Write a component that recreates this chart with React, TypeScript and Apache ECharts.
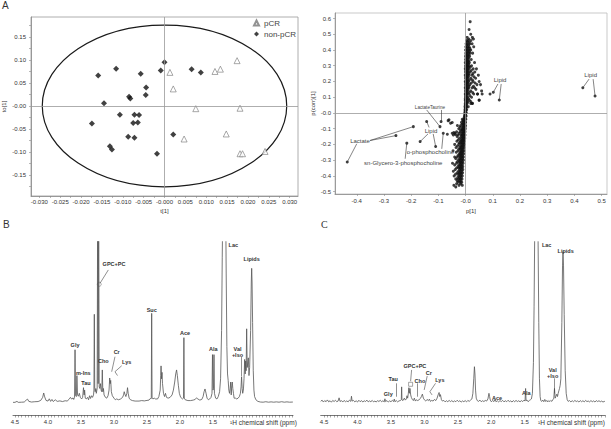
import React, { useEffect, useRef } from "react";
import * as echarts from "echarts";

const FONT = "'Liberation Sans', Arial, Helvetica, sans-serif";

// ---------- Panel A: OPLS-DA scores, t[1] vs to[1] ----------
const nonPcrScores: [number, number][] = [
  [-0.0, 0.095], [-0.0009, 0.077], [0.0065, 0.08], [0.0087, 0.073], [-0.0116, 0.081],
  [-0.0159, 0.066], [-0.0057, 0.07], [-0.0044, 0.04], [-0.0045, 0.024], [-0.0085, 0.02],
  [-0.0082, 0.016], [-0.0145, 0.006], [-0.0107, -0.019], [-0.0072, -0.019], [-0.0061, -0.02],
  [-0.0174, -0.038], [-0.0075, -0.037], [-0.0064, -0.036], [-0.0087, -0.067], [-0.0072, -0.069],
  [-0.0131, -0.088], [-0.0126, -0.095], [-0.0018, -0.104], [0.0021, -0.062],
];
const pcrScores: [number, number][] = [
  [0.0013, 0.073], [0.0021, 0.037], [0.0121, 0.075], [0.0134, 0.08], [0.0174, 0.0985],
  [0.0075, -0.006], [0.0181, -0.005], [0.0148, -0.061], [0.0047, -0.072], [0.0181, -0.104],
  [0.0187, -0.104], [0.0241, -0.099],
];
// Hotelling T2 ellipse: centre x, centre y, radius x, radius y
const t2Ellipse = [0, 0, 0.0293, 0.176];
const scoreXLabels = [-0.03, -0.025, -0.02, -0.015, -0.01, -0.005, 0, 0.005, 0.01, 0.015, 0.02, 0.025, 0.03];
const scoreYLabels = [-0.15, -0.1, -0.05, 0, 0.05, 0.1, 0.15];

// ---------- Panel S-plot: p[1] vs p(corr)[1] ----------
// rows of [p(corr), p values on that row]
const sPlotRows: [number, number[]][] = [
  [0.58, [0.017]], [0.53, [0.013]], [0.5, [0.019]], [0.48, [0.025, 0.006]], [0.47, [0.029, 0.012]],
  [0.46, [0.004, 0.01, 0.02]], [0.45, [0.006, 0.014]], [0.44, [0.002, 0.008, 0.016, 0.024]],
  [0.43, [0.004, 0.011]], [0.42, [0.001, 0.007, 0.013, 0.03]], [0.41, [0.003, 0.009, 0.016]],
  [0.4, [0.0, 0.006, 0.012, 0.019]], [0.39, [0.003, 0.009, 0.014]], [0.38, [0.001, 0.005, 0.011, 0.017, 0.026]],
  [0.37, [0.002, 0.007, 0.012]], [0.36, [0.0, 0.004, 0.009, 0.015]], [0.35, [0.002, 0.007, 0.012]],
  [0.34, [0.0, 0.005, 0.01, 0.021]], [0.33, [0.002, 0.007, 0.012]],
  [0.32, [-0.001, 0.004, 0.009, 0.014, 0.033]], [0.31, [0.002, 0.006, 0.011]],
  [0.3, [0.0, 0.004, 0.008, 0.013, 0.022]], [0.29, [0.001, 0.005, 0.01, 0.017]],
  [0.28, [-0.001, 0.003, 0.007, 0.012, 0.028, 0.04]], [0.27, [0.001, 0.005, 0.01, 0.021]],
  [0.26, [0.0, 0.004, 0.009, 0.017, 0.034]], [0.25, [0.002, 0.006, 0.012, 0.027]],
  [0.24, [-0.001, 0.003, 0.007, 0.013, 0.024, 0.047]], [0.23, [0.001, 0.005, 0.01, 0.031]],
  [0.22, [0.0, 0.003, 0.008, 0.019, 0.037]], [0.21, [0.002, 0.006, 0.014, 0.025]],
  [0.2, [-0.001, 0.002, 0.006, 0.011, 0.028, 0.05]], [0.19, [0.001, 0.004, 0.009, 0.021, 0.035]],
  [0.18, [0.0, 0.003, 0.008, 0.016, 0.042, 0.055]], [0.17, [0.001, 0.005, 0.012, 0.029]],
  [0.16, [-0.001, 0.002, 0.006, 0.012, 0.024, 0.033]], [0.15, [0.001, 0.004, 0.009, 0.038]],
  [0.14, [0.0, 0.003, 0.007, 0.019, 0.059]], [0.13, [0.001, 0.005, 0.014, 0.026]],
  [0.12, [-0.001, 0.002, 0.005, 0.01, 0.03, 0.044, 0.061]], [0.11, [0.0, 0.004, 0.016]],
  [0.1, [0.0, 0.003, 0.008, 0.022]], [0.09, [-0.001, 0.004, 0.011]],
  [0.08, [-0.001, 0.002, 0.005, 0.014, 0.05]], [0.07, [0.0, 0.003, 0.008]],
  [0.06, [-0.001, 0.002, 0.006, 0.019, 0.025]], [0.05, [-0.001, 0.003]],
  [0.04, [-0.002, 0.001, 0.004, 0.01]], [0.03, [-0.001, 0.002]], [0.02, [-0.002, 0.001, 0.004]],
  [0.01, [-0.002, 0.001]], [0.0, [-0.003, 0.0, 0.003]], [-0.01, [-0.003, 0.0]],
  [-0.02, [-0.004, -0.001, 0.002]], [-0.03, [-0.005, -0.002]], [-0.04, [-0.012, -0.006, -0.002, 0.001]],
  [-0.05, [-0.007, -0.003, -0.01]], [-0.06, [-0.015, -0.007, -0.003, 0.0]], [-0.07, [-0.008, -0.004, -0.012]],
  [-0.08, [-0.03, -0.018, -0.009, -0.004, 0.0]], [-0.09, [-0.011, -0.007, -0.002, -0.021]],
  [-0.1, [-0.025, -0.014, -0.01, -0.005, -0.001]], [-0.11, [-0.012, -0.008, -0.003, -0.018]],
  [-0.12, [-0.033, -0.02, -0.011, -0.006, -0.002]], [-0.13, [-0.014, -0.009, -0.004, -0.024]],
  [-0.14, [-0.045, -0.028, -0.017, -0.012, -0.007, -0.002]], [-0.15, [-0.015, -0.01, -0.005, -0.031]],
  [-0.16, [-0.022, -0.013, -0.008, -0.003]], [-0.17, [-0.016, -0.011, -0.006, -0.027]],
  [-0.18, [-0.032, -0.019, -0.014, -0.009, -0.004]], [-0.19, [-0.017, -0.012, -0.007, -0.023]],
  [-0.2, [-0.04, -0.025, -0.015, -0.01, -0.005]], [-0.21, [-0.018, -0.013, -0.008, -0.03]],
  [-0.22, [-0.035, -0.021, -0.016, -0.011, -0.006]], [-0.23, [-0.019, -0.014, -0.009, -0.025]],
  [-0.24, [-0.046, -0.028, -0.017, -0.012, -0.006]], [-0.25, [-0.02, -0.015, -0.01, -0.034]],
  [-0.26, [-0.023, -0.018, -0.013, -0.007]], [-0.27, [-0.021, -0.016, -0.011, -0.028]],
  [-0.28, [-0.04, -0.03, -0.019, -0.013, -0.008]], [-0.29, [-0.022, -0.017, -0.011, -0.036]],
  [-0.3, [-0.026, -0.02, -0.014, -0.008]], [-0.31, [-0.023, -0.017, -0.012, -0.031]],
  [-0.32, [-0.048, -0.033, -0.021, -0.015, -0.009]], [-0.33, [-0.024, -0.018, -0.013, -0.04]],
  [-0.34, [-0.028, -0.021, -0.016, -0.01]], [-0.35, [-0.025, -0.019, -0.013, -0.033]],
  [-0.36, [-0.038, -0.022, -0.016, -0.01]], [-0.37, [-0.026, -0.02, -0.014, -0.045]],
  [-0.38, [-0.031, -0.023, -0.017, -0.011]], [-0.39, [-0.027, -0.021, -0.015, -0.037]],
  [-0.4, [-0.042, -0.024, -0.018, -0.012]], [-0.41, [-0.029, -0.022, -0.016]],
  [-0.42, [-0.036, -0.026, -0.019, -0.013]], [-0.43, [-0.031, -0.023, -0.017]],
  [-0.44, [-0.028, -0.02, -0.014]], [-0.45, [-0.033, -0.018]],
  [-0.46, [-0.043, -0.024, -0.012]], [-0.47, [-0.036]],
];
const sPlotOutliers: [number, number][] = [
  [0.431, 0.16], [0.476, 0.108], [0.09, 0.12], [0.102, 0.131], [0.124, 0.082],
  [-0.094, -0.087], [-0.09, -0.055], [-0.192, -0.087], [-0.256, -0.144], [-0.435, -0.312],
  [-0.143, -0.055], [-0.167, -0.182], [-0.11, -0.213], [-0.082, -0.129], [-0.216, -0.192],
  [-0.064, -0.049], [-0.055, -0.065], [-0.067, -0.135], [-0.039, -0.129], [-0.037, -0.137],
  [-0.049, -0.129], [-0.043, -0.125], [-0.061, -0.044], [-0.049, -0.061], [0.05, 0.082],
  [0.025, 0.061], [0.019, 0.072], [0.044, 0.12],
];
const sPlotLabels: [string, number, number][] = [
  ["Lipid", 0.46, 0.241],
  ["Lipid", 0.127, 0.209],
  ["LactateTaurine", -0.131, 0.035],
  ["Lactate", -0.388, -0.177],
  ["Lipid", -0.127, -0.112],
  ["o-phosphocholine", -0.129, -0.249],
  ["sn-Glycero-3-phosphocholine", -0.229, -0.319],
];
const sPlotLeaders: [number, number][][] = [
  [[0.454, 0.215], [0.431, 0.16]], [[0.469, 0.215], [0.476, 0.108]],
  [[0.119, 0.184], [0.102, 0.131]], [[0.131, 0.184], [0.124, 0.082]],
  [[-0.143, 0.019], [-0.094, -0.087]], [[-0.091, 0.019], [-0.09, -0.055]],
  [[-0.351, -0.175], [-0.192, -0.087]], [[-0.351, -0.175], [-0.256, -0.144]], [[-0.4, -0.196], [-0.435, -0.312]],
  [[-0.134, -0.092], [-0.143, -0.055]], [[-0.138, -0.133], [-0.167, -0.182]], [[-0.119, -0.133], [-0.11, -0.213]],
  [[-0.0875, -0.228], [-0.082, -0.129]],
  [[-0.222, -0.291], [-0.216, -0.192]],
];
const sPlotXLabels = [-0.4, -0.3, -0.2, -0.1, 0, 0.1, 0.2, 0.3, 0.4, 0.5];
const sPlotYLabels = [-0.5, -0.4, -0.3, -0.2, -0.1, 0, 0.1, 0.2, 0.3, 0.4, 0.5, 0.6];

// ---------- Panels B and C: 1H spectra, [ppm, intensity] ----------
const spectrumB: [number, number][] = [
  [4.53, 0.4], [4.5, 0.4], [4.47, 1.0], [4.45, 0.4], [4.4, 0.5], [4.36, 0.6], [4.33, 1.8], [4.31, 2.4],
  [4.29, 1.0], [4.25, 0.6], [4.2, 0.8], [4.15, 0.9], [4.11, 1.6], [4.08, 3.5], [4.065, 6.2], [4.05, 3.8],
  [4.03, 1.6], [4.0, 1.2], [3.98, 2.6], [3.96, 1.0], [3.94, 2.2], [3.92, 0.9], [3.89, 2.0], [3.86, 1.0],
  [3.82, 1.3], [3.78, 0.9], [3.74, 1.4], [3.71, 1.2], [3.68, 2.3], [3.66, 3.5], [3.64, 2.4], [3.62, 3.2],
  [3.61, 2.2], [3.598, 3.5], [3.59, 33], [3.582, 4.5], [3.57, 4], [3.562, 17], [3.552, 5], [3.54, 4.2],
  [3.525, 6], [3.51, 3.5], [3.49, 2.5], [3.475, 3.5], [3.462, 9.5], [3.452, 5], [3.445, 8], [3.435, 3],
  [3.42, 2.5], [3.4, 3.5], [3.385, 2], [3.37, 4.5], [3.355, 2.8], [3.34, 4.5], [3.325, 3.5], [3.31, 5],
  [3.304, 8], [3.298, 55], [3.292, 9], [3.285, 7], [3.275, 9], [3.268, 6], [3.255, 9], [3.247, 130],
  [3.24, 12], [3.232, 130], [3.224, 10], [3.215, 9], [3.205, 12], [3.195, 8], [3.185, 7], [3.177, 20.5],
  [3.169, 7], [3.16, 9], [3.15, 5], [3.13, 3.5], [3.11, 3], [3.09, 4.5], [3.075, 8], [3.065, 15.5],
  [3.057, 12], [3.05, 14], [3.04, 7], [3.025, 4.5], [3.0, 3], [2.98, 2], [2.96, 2.5], [2.93, 2],
  [2.9, 2.5], [2.87, 3.5], [2.855, 5], [2.845, 7], [2.835, 5.5], [2.82, 4], [2.805, 6], [2.795, 9.5],
  [2.785, 6], [2.77, 3], [2.75, 2], [2.72, 1.5], [2.68, 1.2], [2.62, 1.2], [2.58, 1.5], [2.54, 1.3],
  [2.5, 1.6], [2.47, 1.8], [2.45, 2.8], [2.44, 2.5], [2.435, 3], [2.429, 55.6], [2.423, 3.5], [2.41, 2.5],
  [2.39, 3], [2.37, 2.5], [2.34, 2.5], [2.32, 4], [2.3, 8], [2.292, 17], [2.287, 23], [2.28, 15],
  [2.272, 19], [2.265, 12], [2.25, 6], [2.235, 4], [2.22, 6], [2.205, 3.5], [2.18, 3], [2.15, 3.5],
  [2.12, 5], [2.1, 8], [2.08, 13], [2.065, 18], [2.052, 20.5], [2.04, 17], [2.025, 11], [2.01, 6],
  [1.99, 3.5], [1.96, 2.5], [1.947, 3], [1.941, 40.5], [1.935, 3], [1.92, 2], [1.88, 1.5], [1.84, 1.5],
  [1.8, 1.8], [1.77, 2.2], [1.75, 3.2], [1.73, 2.5], [1.7, 1.8], [1.67, 2.2], [1.65, 4], [1.635, 7],
  [1.621, 8.7], [1.605, 6], [1.59, 3], [1.57, 2], [1.55, 2.5], [1.53, 3.5], [1.515, 6], [1.508, 30],
  [1.5, 8], [1.492, 9], [1.485, 30], [1.478, 6], [1.46, 3], [1.44, 2.5], [1.42, 4], [1.4, 7],
  [1.385, 15], [1.37, 45], [1.36, 90], [1.35, 130], [1.31, 130], [1.3, 80], [1.29, 35], [1.28, 18],
  [1.27, 14], [1.26, 8], [1.25, 6], [1.24, 9], [1.232, 13], [1.224, 5], [1.215, 11], [1.208, 13],
  [1.2, 9], [1.19, 6], [1.18, 3], [1.16, 3], [1.14, 2.5], [1.12, 3], [1.1, 4], [1.085, 6],
  [1.075, 10], [1.067, 16.3], [1.058, 9], [1.05, 6], [1.04, 8], [1.03, 15], [1.02, 27], [1.012, 18],
  [1.005, 26], [0.998, 20], [0.99, 46], [0.982, 22], [0.975, 22], [0.965, 28], [0.955, 17], [0.945, 22],
  [0.93, 45], [0.92, 75], [0.914, 83.5], [0.908, 75], [0.9, 50], [0.89, 20], [0.88, 8], [0.87, 4],
  [0.85, 2], [0.82, 1], [0.78, 0.6], [0.74, 0.5], [0.7, 0.8], [0.66, 0.5], [0.62, 0.7], [0.58, 0.5],
  [0.54, 0.7], [0.5, 0.5], [0.46, 0.8], [0.42, 0.5], [0.38, 0.7], [0.34, 0.5], [0.29, 0.6],
];
const spectrumC: [number, number][] = [
  [4.55, 1.0], [4.53, 1.8], [4.51, 0.6], [4.49, 1.5], [4.47, 0.8], [4.45, 1.9], [4.43, 0.7], [4.41, 1.4],
  [4.39, 0.5], [4.37, 1.6], [4.35, 0.9], [4.33, 1.7], [4.31, 0.8], [4.29, 1.2], [4.275, 3.2], [4.26, 0.9],
  [4.24, 1.5], [4.22, 0.6], [4.2, 1.6], [4.18, 0.8], [4.16, 1.3], [4.14, 0.7], [4.12, 1.8], [4.1, 1.0],
  [4.09, 4.2], [4.08, 1.2], [4.06, 1.6], [4.04, 0.7], [4.02, 1.4], [4.0, 0.6], [3.98, 1.7], [3.96, 0.8],
  [3.94, 1.5], [3.92, 0.6], [3.9, 1.4], [3.88, 0.9], [3.86, 1.8], [3.84, 0.7], [3.82, 1.3], [3.8, 0.8],
  [3.78, 1.6], [3.76, 0.7], [3.74, 1.2], [3.72, 0.6], [3.7, 1.5], [3.68, 0.9], [3.66, 1.7], [3.64, 0.8],
  [3.62, 1.4], [3.6, 0.7], [3.59, 2.6], [3.58, 0.9], [3.56, 1.5], [3.54, 0.6], [3.52, 1.3], [3.5, 0.8],
  [3.48, 1.6], [3.46, 0.9], [3.45, 2.4], [3.44, 0.8], [3.42, 1.5], [3.4, 0.7], [3.38, 1.3], [3.36, 1.5],
  [3.345, 2], [3.34, 10], [3.335, 2], [3.32, 1.5], [3.3, 3], [3.285, 1.8], [3.27, 2.5], [3.26, 4.5],
  [3.25, 3], [3.24, 6], [3.232, 9.5], [3.225, 6], [3.215, 9], [3.205, 5], [3.195, 3.5], [3.18, 2.2],
  [3.165, 1.5], [3.15, 3], [3.135, 1.2], [3.12, 2], [3.1, 1.5], [3.08, 2], [3.06, 2.8], [3.045, 4],
  [3.03, 5.5], [3.015, 3], [3.0, 2], [2.98, 1.2], [2.96, 2.2], [2.94, 1.5], [2.925, 2.4], [2.91, 1.0],
  [2.89, 1.6], [2.87, 1.2], [2.85, 2.2], [2.83, 1.5], [2.81, 3], [2.795, 5], [2.78, 6.5], [2.77, 4],
  [2.76, 5.2], [2.745, 2], [2.73, 1.2], [2.71, 1.6], [2.69, 0.7], [2.67, 1.4], [2.65, 0.8], [2.63, 1.6],
  [2.61, 0.9], [2.59, 1.5], [2.57, 0.7], [2.55, 1.3], [2.53, 0.8], [2.51, 1.7], [2.49, 0.9], [2.47, 1.4],
  [2.45, 0.6], [2.43, 1.3], [2.41, 0.8], [2.39, 1.5], [2.37, 0.7], [2.35, 1.6], [2.33, 1.0], [2.31, 1.8],
  [2.29, 2.5], [2.275, 6], [2.262, 15], [2.252, 22.5], [2.244, 18], [2.235, 8], [2.225, 3], [2.21, 1.5],
  [2.19, 1.0], [2.17, 1.8], [2.15, 0.8], [2.13, 1.4], [2.11, 0.9], [2.09, 1.6], [2.07, 1.2], [2.05, 2.5],
  [2.035, 6], [2.025, 4], [2.015, 1.8], [2.0, 0.8], [1.98, 1.5], [1.96, 0.9], [1.945, 2.2], [1.93, 0.8],
  [1.91, 1.4], [1.89, 0.7], [1.87, 1.5], [1.85, 0.9], [1.83, 1.6], [1.81, 0.7], [1.79, 1.4], [1.77, 0.8],
  [1.75, 1.7], [1.73, 0.9], [1.71, 1.3], [1.69, 0.6], [1.67, 1.5], [1.65, 0.8], [1.63, 1.6], [1.61, 0.9],
  [1.59, 1.4], [1.57, 0.7], [1.55, 1.5], [1.53, 0.9], [1.51, 1.8], [1.495, 1.2], [1.487, 9], [1.48, 1.5],
  [1.465, 1.8], [1.45, 0.8], [1.43, 1.6], [1.415, 2], [1.4, 2.5], [1.385, 6], [1.37, 25], [1.36, 60],
  [1.35, 110], [1.345, 130], [1.31, 130], [1.3, 100], [1.29, 50], [1.28, 15], [1.27, 4], [1.26, 1.5],
  [1.245, 1.0], [1.23, 1.8], [1.215, 0.8], [1.2, 2.2], [1.185, 0.9], [1.17, 1.6], [1.155, 0.7], [1.14, 1.5],
  [1.125, 0.9], [1.11, 1.6], [1.095, 1.0], [1.08, 2], [1.065, 3], [1.055, 9], [1.045, 3], [1.035, 4],
  [1.02, 5.5], [1.01, 4], [1.0, 6], [0.99, 7.5], [0.98, 9], [0.97, 11], [0.96, 15], [0.945, 50],
  [0.935, 85], [0.928, 93.8], [0.92, 85], [0.91, 55], [0.895, 20], [0.88, 6], [0.865, 2], [0.85, 1],
  [0.83, 1.5], [0.81, 0.7], [0.79, 1.4], [0.77, 0.8], [0.75, 1.6], [0.73, 0.9], [0.71, 1.3], [0.69, 0.6],
  [0.67, 1.5], [0.65, 0.8], [0.63, 1.4], [0.61, 0.7], [0.59, 1.6], [0.57, 0.9], [0.55, 1.2], [0.53, 0.7],
  [0.51, 1.5], [0.49, 0.8], [0.47, 1.3], [0.45, 0.6], [0.43, 1.5], [0.41, 0.9], [0.39, 1.4], [0.37, 0.8],
  [0.35, 1.2], [0.33, 0.6], [0.31, 1.0], [0.3, 0.8],
];
const ppmLabels = [4.5, 4.0, 3.5, 3.0, 2.5, 2.0, 1.5];

const peakLabelsB: [string, number, number][] = [
  ["Gly", 3.59, 36], ["m-Ins", 3.465, 18.8], ["Tau", 3.424, 12.2], ["GPC+PC", 3.0, 86],
  ["Cho", 3.162, 26.2], ["Cr", 2.959, 31.4], ["Lys", 2.808, 25.6], ["Suc", 2.429, 57.7],
  ["Ace", 1.924, 43.2], ["Ala", 1.495, 33.3], ["Val\n+Iso", 1.129, 31.6], ["Lac", 1.192, 97.8],
  ["Lipids", 0.914, 89.3],
];
const peakLeadersB: [number, number][][] = [
  [[3.086, 82.5], [3.212, 74.2]],
  [[2.985, 28.7], [3.035, 19.4]],
  [[2.883, 23.1], [2.985, 19.4]], [[2.985, 19.4], [2.947, 17.0]],
  [[1.065, 28.5], [1.065, 16.7]],
];
const peakLabelsC: [string, number, number][] = [
  ["Gly", 3.54, 5.4], ["Tau", 3.466, 14.7], ["GPC+PC", 3.142, 22.9], ["Cho", 3.067, 13.8],
  ["Cr", 2.933, 18.8], ["Lys", 2.769, 14.3], ["Ace", 1.913, 3.3], ["Ala", 1.475, 6.4],
  ["Val\n+Iso", 1.082, 18.4], ["Lac", 1.172, 98], ["Lipids", 0.888, 94.2],
];
const peakLeadersC: [number, number][][] = [
  [[3.425, 12.2], [3.425, 3.9]],
  [[3.191, 20.5], [3.206, 13.5]],
  [[3.101, 12.2], [3.101, 3.9]],
  [[2.958, 16.7], [3.003, 8.1]],
  [[2.833, 12.2], [2.918, 7.0]], [[2.918, 7.0], [2.885, 5.0]],
  [[1.052, 15.3], [1.052, 6.0]],
];

const ticksBetween = (from: number, to: number, step: number) => {
  const out: number[] = [];
  for (let v = from; v <= to + 1e-9; v += step) out.push(+v.toFixed(4));
  return out;
};

const labelText = { fontFamily: FONT, fontSize: 6, color: "#333" };

function scoreAxes() {
  return {
    x: {
      gridIndex: 0, type: "value", min: -0.032, max: 0.032,
      name: "t[1]", nameLocation: "middle", nameGap: 12,
      nameTextStyle: { ...labelText, fontSize: 6 },
      axisLine: { onZero: false, lineStyle: { color: "#888", width: 0.8 } },
      axisTick: { customValues: ticksBetween(-0.03, 0.03, 0.0025), length: 2, lineStyle: { color: "#888", width: 0.6 } },
      axisLabel: { ...labelText, customValues: scoreXLabels, margin: 3, formatter: (v: number) => (Math.abs(v) < 1e-9 ? "-0.000" : v.toFixed(3)) },
      splitLine: { show: false },
    },
    y: {
      gridIndex: 0, type: "value", min: -0.196, max: 0.1935,
      name: "to[1]", nameLocation: "middle", nameGap: 24, nameRotate: 90,
      nameTextStyle: { ...labelText, fontSize: 6 },
      axisLine: { onZero: false, lineStyle: { color: "#888", width: 0.8 } },
      axisTick: { customValues: ticksBetween(-0.175, 0.175, 0.025), length: 2, lineStyle: { color: "#888", width: 0.6 } },
      axisLabel: { ...labelText, customValues: scoreYLabels, margin: 5, formatter: (v: number) => (Math.abs(v) < 1e-9 ? "-0.00" : v.toFixed(2)) },
      splitLine: { show: false },
    },
  };
}

function sPlotAxes() {
  return {
    x: {
      gridIndex: 1, type: "value", min: -0.48, max: 0.52,
      name: "p[1]", nameLocation: "middle", nameGap: 14,
      nameTextStyle: { ...labelText },
      axisLine: { onZero: false, lineStyle: { color: "#888", width: 0.8 } },
      axisTick: { customValues: sPlotXLabels, length: 2, lineStyle: { color: "#888", width: 0.6 } },
      axisLabel: { ...labelText, customValues: sPlotXLabels, margin: 4, formatter: (v: number) => (Math.abs(v) < 1e-9 ? "-0.0" : v.toFixed(1)) },
      splitLine: { show: false },
    },
    y: {
      gridIndex: 1, type: "value", min: -0.515, max: 0.635,
      name: "p(corr)[1]", nameLocation: "middle", nameGap: 19, nameRotate: 90,
      nameTextStyle: { ...labelText },
      axisLine: { onZero: false, lineStyle: { color: "#888", width: 0.8 } },
      axisTick: { customValues: sPlotYLabels, length: 2, lineStyle: { color: "#888", width: 0.6 } },
      axisLabel: { ...labelText, customValues: sPlotYLabels, margin: 4, formatter: (v: number) => (Math.abs(v) < 1e-9 ? "-0.0" : v.toFixed(1)) },
      splitLine: { show: false },
    },
  };
}

function ppmAxis(gridIndex: number, min: number, max: number) {
  return {
    gridIndex, type: "value", inverse: true, min, max,
    axisLine: { onZero: false, lineStyle: { color: "#555", width: 0.8 } },
    axisTick: { customValues: ticksBetween(0.3, 4.5, 0.05), length: 2.5, lineStyle: { color: "#555", width: 0.5 } },
    axisLabel: { ...labelText, customValues: ppmLabels, margin: 4, formatter: (v: number) => v.toFixed(1) },
    splitLine: { show: false },
  };
}

function intensityAxis(gridIndex: number) {
  return { gridIndex, type: "value", min: -7.44, max: 100, show: false, splitLine: { show: false } };
}

// Text annotations anchored at data coordinates, centred on the anchor
function labelSeries(axis: number, items: [string, number, number][], style: object) {
  return {
    type: "scatter", xAxisIndex: axis, yAxisIndex: axis, silent: true, z: 6,
    symbol: "circle", symbolSize: 1, itemStyle: { color: "#fff", opacity: 0 },
    data: items.map(([name, x, y]) => ({
      name, value: [x, y],
      ...(name === "LactateTaurine" ? { label: { fontSize: 4.6 } } : {}),
    })),
    label: {
      show: true, position: [0.5, 0.5], align: "center", verticalAlign: "middle",
      formatter: "{b}", opacity: 1, ...style,
    },
    labelLayout: { hideOverlap: false },
  };
}

function leaderSeries(axis: number, segs: [number, number][][], color: string) {
  return {
    type: "lines", coordinateSystem: "cartesian2d", xAxisIndex: axis, yAxisIndex: axis,
    silent: true, z: 5, symbol: ["none", "none"],
    lineStyle: { color, width: 0.6, opacity: 1 },
    data: segs.map((coords) => ({ coords })),
  };
}

export default function App() {
  const ref = useRef<HTMLDivElement>(null);

  useEffect(() => {
    if (!ref.current) return;
    const chart = echarts.init(ref.current, undefined, { renderer: "svg" });
    const a = scoreAxes();
    const s = sPlotAxes();
    const sPoints: [number, number][] = [];
    sPlotRows.forEach(([y, xs]) => xs.forEach((x) => sPoints.push([x, y])));
    sPlotOutliers.forEach((p) => sPoints.push(p));

    const peakStyle = { fontFamily: FONT, fontSize: 5.5, fontWeight: "bold", color: "#333", lineHeight: 6 };

    chart.setOption({
      animation: false,
      backgroundColor: "#fff",
      textStyle: { fontFamily: FONT },
      grid: [
        { left: 29, top: 17, width: 269, height: 179, show: true, borderColor: "#999", borderWidth: 0.8 },
        { left: 335, top: 13, width: 272, height: 181, show: true, borderColor: "#bbb", borderWidth: 0.8 },
        { left: 13, top: 241.7, width: 280, height: 173.3 },
        { left: 320.7, top: 241.7, width: 284.3, height: 173.3 },
      ],
      xAxis: [a.x, s.x, ppmAxis(2, 0.288, 4.53), ppmAxis(3, 0.3, 4.55)],
      yAxis: [a.y, s.y, intensityAxis(2), intensityAxis(3)],
      legend: {
        data: ["pCR", "non-pCR"], orient: "vertical", left: 253, top: 19, padding: 0,
        itemWidth: 5, itemHeight: 5, itemGap: 3,
        textStyle: { fontFamily: FONT, fontSize: 8, color: "#444", lineHeight: 8, padding: [0, 0, 0, 0] },
      },
      series: [
        {
          type: "custom", name: "T2", xAxisIndex: 0, yAxisIndex: 0, silent: true, clip: false, z: 1,
          data: [t2Ellipse],
          renderItem: (_p: any, api: any) => {
            const c = api.coord([api.value(0), api.value(1)]);
            const sz = api.size([api.value(2), api.value(3)]);
            return {
              type: "ellipse",
              shape: { cx: c[0], cy: c[1], rx: sz[0], ry: sz[1] },
              style: { fill: "none", stroke: "#1a1a1a", lineWidth: 1.2 },
            };
          },
        },
        {
          type: "scatter", name: "pCR", xAxisIndex: 0, yAxisIndex: 0, z: 3,
          symbol: "triangle", symbolSize: 6,
          itemStyle: { color: "#fff", borderColor: "#777", borderWidth: 0.8 },
          data: pcrScores,
          markLine: {
            silent: true, symbol: "none", label: { show: false },
            lineStyle: { color: "#999", width: 0.8, type: "solid" },
            data: [{ xAxis: 0 }, { yAxis: 0 }],
          },
        },
        {
          type: "scatter", name: "non-pCR", xAxisIndex: 0, yAxisIndex: 0, z: 3,
          symbol: "diamond", symbolSize: 6, itemStyle: { color: "#111" },
          data: nonPcrScores,
        },
        {
          type: "scatter", name: "S", xAxisIndex: 1, yAxisIndex: 1, z: 3,
          symbol: "circle", symbolSize: 3, itemStyle: { color: "#111" },
          data: sPoints,
          markLine: {
            silent: true, symbol: "none", label: { show: false },
            lineStyle: { color: "#999", width: 0.8, type: "solid" },
            data: [{ xAxis: 0 }, { yAxis: 0 }],
          },
        },
        leaderSeries(1, sPlotLeaders, "#333"),
        labelSeries(1, sPlotLabels, { fontFamily: FONT, fontSize: 6, color: "#444" }),
        {
          type: "line", name: "B", xAxisIndex: 2, yAxisIndex: 2, data: spectrumB,
          showSymbol: false, symbol: "none", clip: true, silent: true,
          lineStyle: { color: "#555", width: 0.8 },
        },
        {
          type: "line", name: "C", xAxisIndex: 3, yAxisIndex: 3, data: spectrumC,
          showSymbol: false, symbol: "none", clip: true, silent: true,
          lineStyle: { color: "#555", width: 0.8 },
        },
        leaderSeries(2, peakLeadersB, "#444"),
        leaderSeries(3, peakLeadersC, "#444"),
        labelSeries(2, peakLabelsB, peakStyle),
        labelSeries(3, peakLabelsC, peakStyle),
        {
          type: "scatter", xAxisIndex: 2, yAxisIndex: 2, silent: true, z: 6,
          symbol: "circle", symbolSize: 4,
          itemStyle: { color: "rgba(255,255,255,0)", borderColor: "#555", borderWidth: 0.6 },
          data: [[3.223, 73.6]],
        },
        {
          type: "scatter", xAxisIndex: 3, yAxisIndex: 3, silent: true, z: 6,
          symbol: "rect", symbolSize: 4,
          itemStyle: { color: "rgba(255,255,255,0)", borderColor: "#444", borderWidth: 0.6 },
          data: [[3.206, 11.6]],
        },
      ],
      graphic: [
        { type: "text", left: 2, top: 0, style: { text: "A", fontFamily: FONT, fontSize: 10, fill: "#333" } },
        { type: "text", left: 3, top: 219, style: { text: "B", fontFamily: FONT, fontSize: 10, fill: "#333" } },
        { type: "text", left: 321, top: 219, style: { text: "C", fontFamily: "'Liberation Serif', serif", fontSize: 10, fill: "#333" } },
        { type: "text", left: 230, top: 418.5, style: { text: "¹H chemical shift (ppm)", fontFamily: FONT, fontSize: 6.5, fill: "#333" } },
        { type: "text", left: 538, top: 418.5, style: { text: "¹H chemical shift (ppm)", fontFamily: FONT, fontSize: 6.5, fill: "#333" } },
      ],
    });

    return () => chart.dispose();
  }, []);

  return (
    <div
      ref={ref}
      style={{ position: "fixed", left: 0, top: 0, width: 611, height: 429, background: "#fff" }}
    />
  );
}
